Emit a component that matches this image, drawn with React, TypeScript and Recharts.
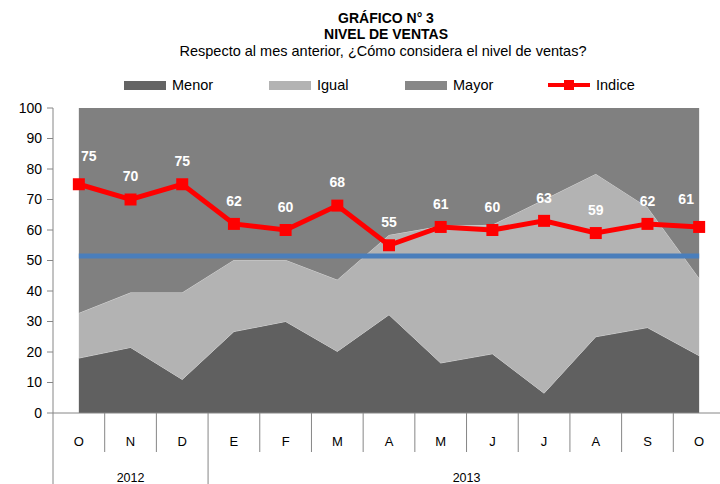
import { Area, AreaChart, LabelList, Line, XAxis, YAxis } from "recharts";

const FONT = "Arial, 'Liberation Sans', sans-serif";

const MONTHS = ["O", "N", "D", "E", "F", "M", "A", "M", "J", "J", "A", "S", "O"];
const YEARS = [
  { label: "2012", start: 0, span: 3 },
  { label: "2013", start: 3, span: 10 },
];
const MENOR = [18, 21.5, 11, 26.7, 30, 20.2, 32.2, 16.4, 19.4, 6.5, 25, 28, 18.8];
const IGUAL = [14.8, 18, 28.5, 23.5, 20.2, 23.5, 26.2, 44.9, 42.3, 63.5, 53.4, 39.5, 25.4];
const MAYOR = [67.2, 60.5, 60.5, 49.8, 49.8, 56.3, 41.6, 38.7, 38.3, 30, 21.6, 32.5, 55.8];
const INDICE = [75, 70, 75, 62, 60, 68, 55, 61, 60, 63, 59, 62, 61];
const PROMEDIO = [51.5, 51.5, 51.5, 51.5, 51.5, 51.5, 51.5, 51.5, 51.5, 51.5, 51.5, 51.5, 51.5];
const Y_TICKS = [0, 10, 20, 30, 40, 50, 60, 70, 80, 90, 100];

const LEGEND = [
  { label: "Menor", color: "#646464", kind: "box", left: 124 },
  { label: "Igual", color: "#b3b3b3", kind: "box", left: 269 },
  { label: "Mayor", color: "#878787", kind: "box", left: 405 },
  { label: "Indice", color: "#ff0000", kind: "line", left: 548 },
];

const data = MONTHS.map((m, i) => ({
  month: m,
  menor: MENOR[i],
  igual: IGUAL[i],
  mayor: MAYOR[i],
  indice: INDICE[i],
  promedio: PROMEDIO[i],
}));

// layout
const W = 740;
const H = 484;
const PLOT_L = 53;
const PLOT_R = 725;
const STEP = (PLOT_R - PLOT_L) / MONTHS.length;
const HALF = STEP / 2;

function MonthTick(props: any) {
  const { x, y, payload } = props;
  const i = payload.index;
  const year = YEARS.find((yr) => yr.start === i);
  return (
    <g>
      <line x1={x - HALF} x2={x - HALF} y1={y} y2={year ? y + 75 : y + 39} stroke="#868686" strokeWidth={1} />
      <text x={x} y={y + 33} textAnchor="middle" fontSize={13} fontFamily={FONT} fill="#000">
        {payload.value}
      </text>
      {year && (
        <text x={x - HALF + (year.span * STEP) / 2} y={y + 69} textAnchor="middle" fontSize={12.5} fontFamily={FONT} fill="#000">
          {year.label}
        </text>
      )}
    </g>
  );
}

function SquareDot(props: any) {
  const { cx, cy } = props;
  if (cx == null || cy == null) return null;
  return <rect x={cx - 6} y={cy - 6} width={12} height={12} fill="#ff0000" />;
}

function IndiceLabel(props: any) {
  const { x, y, value, index } = props;
  let dx = 0;
  let dy = -22;
  if (index === 0) {
    dx = 10;
    dy = -27;
  }
  if (index === INDICE.length - 1) {
    dx = -13;
    dy = -27;
  }
  return (
    <text x={x + dx} y={y + dy} textAnchor="middle" dominantBaseline="middle" fill="#ffffff" fontWeight="bold" fontSize={14} fontFamily={FONT}>
      {value}
    </text>
  );
}

export default function App() {
  return (
    <div style={{ position: "fixed", top: 0, left: 0, width: 720, height: 484, overflow: "hidden", background: "#fff", fontFamily: FONT }}>
      <div style={{ position: "absolute", top: 10, left: 0, width: 772, textAlign: "center", fontWeight: "bold", fontSize: 14, lineHeight: "16px" }}>
        GRÁFICO N° 3
        <br />
        NIVEL DE VENTAS
      </div>
      <div style={{ position: "absolute", top: 43, left: 0, width: 766, textAlign: "center", fontSize: 14.5, lineHeight: "17px" }}>
        Respecto al mes anterior, ¿Cómo considera el nivel de ventas?
      </div>
      {LEGEND.map((it) => (
        <div key={it.label} style={{ position: "absolute", top: 76, left: it.left, height: 18, display: "flex", alignItems: "center", fontSize: 14.5 }}>
          {it.kind === "box" ? (
            <div style={{ width: 42, height: 9, background: it.color }} />
          ) : (
            <div style={{ position: "relative", width: 42, height: 12 }}>
              <div style={{ position: "absolute", top: 4, left: 0, width: 42, height: 4, background: it.color }} />
              <div style={{ position: "absolute", top: 1, left: 16, width: 10, height: 10, background: it.color }} />
            </div>
          )}
          <span style={{ marginLeft: 6 }}>{it.label}</span>
        </div>
      ))}
      <div style={{ position: "absolute", top: 0, left: 0 }}>
        <AreaChart width={W} height={H} data={data} margin={{ top: 108, right: W - PLOT_R, bottom: 0, left: 13 }}>
          <XAxis
            dataKey="month"
            height={71}
            interval={0}
            padding={{ left: HALF, right: HALF }}
            tickSize={0}
            tickMargin={0}
            tickLine={false}
            axisLine={{ stroke: "#868686" }}
            tick={<MonthTick />}
          />
          <YAxis
            width={40}
            domain={[0, 100]}
            ticks={Y_TICKS}
            interval={0}
            tickSize={6}
            tickMargin={5}
            axisLine={{ stroke: "#868686" }}
            tickLine={{ stroke: "#868686" }}
            tick={{ fill: "#000", fontSize: 14, fontFamily: FONT }}
          />
          <Area type="linear" dataKey="menor" stackId="s" fill="#606060" fillOpacity={1} stroke="#e6e6e6" strokeWidth={0.7} isAnimationActive={false} />
          <Area type="linear" dataKey="igual" stackId="s" fill="#b3b3b3" fillOpacity={1} stroke="#e6e6e6" strokeWidth={0.7} isAnimationActive={false} />
          <Area type="linear" dataKey="mayor" stackId="s" fill="#808080" fillOpacity={1} stroke="none" isAnimationActive={false} />
          <Line type="linear" dataKey="promedio" stroke="#4a7ebb" strokeWidth={5} dot={false} isAnimationActive={false} />
          <Line type="linear" dataKey="indice" stroke="#ff0000" strokeWidth={5} dot={<SquareDot />} isAnimationActive={false}>
            <LabelList dataKey="indice" content={<IndiceLabel />} />
          </Line>
        </AreaChart>
      </div>
    </div>
  );
}
